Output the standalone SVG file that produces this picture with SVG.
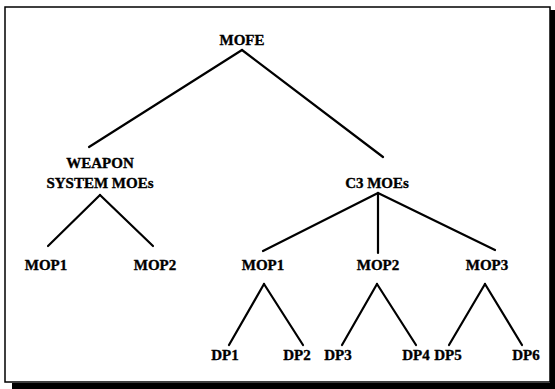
<svg xmlns="http://www.w3.org/2000/svg" width="555" height="389" viewBox="0 0 555 389">
<style>
.t{font-family:"Liberation Serif","Times New Roman",serif;font-weight:bold;font-size:15px;fill:#000;stroke:#000;stroke-width:0.35;text-anchor:middle}
.c{stroke:#000;stroke-width:2.2;fill:none;stroke-linecap:round}
</style>
<rect x="0" y="0" width="555" height="389" fill="#fff"/>
<g id="frame">
<rect x="5" y="7" width="545" height="375" fill="none" stroke="#000" stroke-width="1.5"/>
<rect x="550" y="10" width="5" height="379" fill="#000"/>
<rect x="12" y="383" width="543" height="6" fill="#000"/>
</g>
<g id="connectors" class="c">
<line x1="242" y1="50" x2="89" y2="147"/>
<line x1="242" y1="50" x2="383" y2="157"/>
<line x1="100" y1="195" x2="48" y2="246"/>
<line x1="100" y1="195" x2="153" y2="246"/>
<line x1="378" y1="193" x2="263" y2="251"/>
<line x1="378" y1="193" x2="378" y2="253"/>
<line x1="378" y1="193" x2="495" y2="250"/>
<line x1="264" y1="284" x2="229" y2="345"/>
<line x1="264" y1="284" x2="303" y2="345"/>
<line x1="377" y1="284" x2="342" y2="345"/>
<line x1="377" y1="284" x2="416" y2="345"/>
<line x1="485" y1="284" x2="449" y2="345"/>
<line x1="485" y1="284" x2="522" y2="345"/>
</g>
<g id="mofe"><text class="t" x="242" y="45">MOFE</text></g>
<g id="weapon"><text class="t" x="100" y="168">WEAPON</text><text class="t" x="100" y="188">SYSTEM MOEs</text></g>
<g id="c3"><text class="t" x="377" y="188">C3 MOEs</text></g>
<g id="w-mop1"><text class="t" x="46" y="270">MOP1</text></g>
<g id="w-mop2"><text class="t" x="155" y="270">MOP2</text></g>
<g id="c-mop1"><text class="t" x="263" y="270">MOP1</text></g>
<g id="c-mop2"><text class="t" x="378" y="270">MOP2</text></g>
<g id="c-mop3"><text class="t" x="487" y="270">MOP3</text></g>
<g id="dp1"><text class="t" x="225" y="360">DP1</text></g>
<g id="dp2"><text class="t" x="297" y="360">DP2</text></g>
<g id="dp3"><text class="t" x="338" y="360">DP3</text></g>
<g id="dp4"><text class="t" x="416" y="360">DP4</text></g>
<g id="dp5"><text class="t" x="448" y="360">DP5</text></g>
<g id="dp6"><text class="t" x="526" y="360">DP6</text></g>
</svg>
